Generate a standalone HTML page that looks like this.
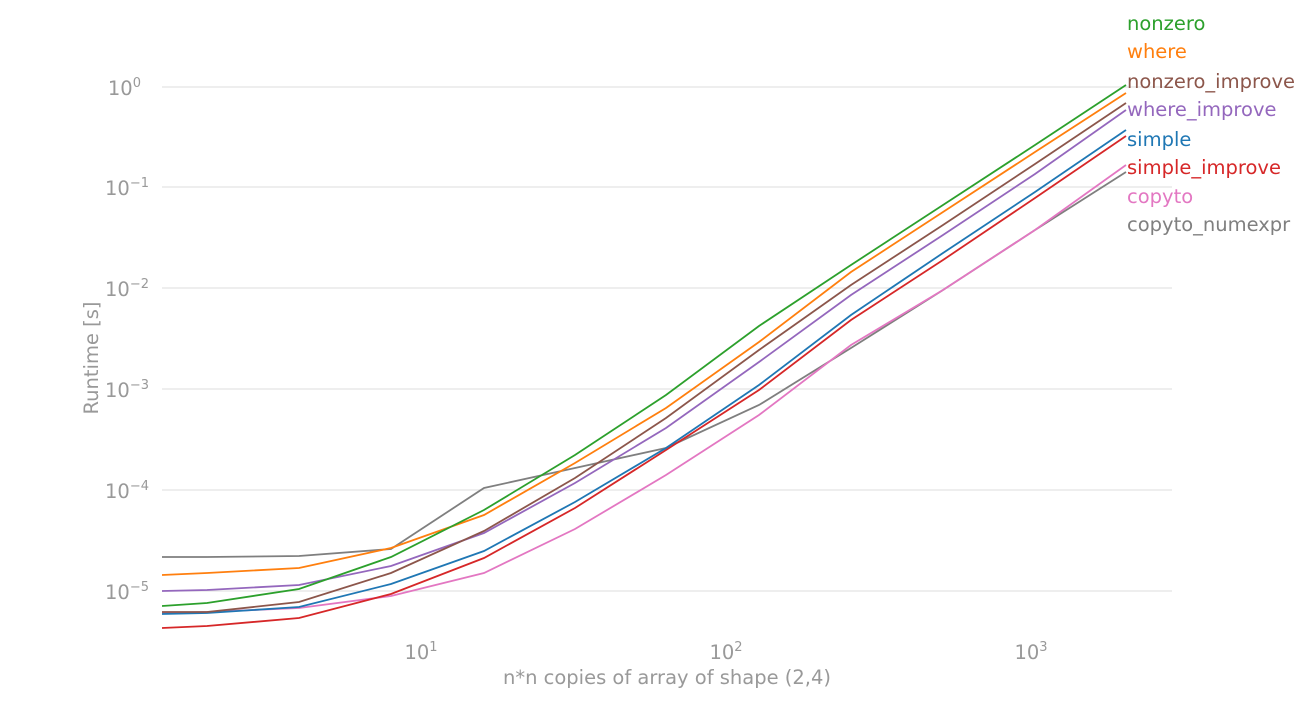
<!DOCTYPE html>
<html><head><meta charset="utf-8"><style>
html,body{margin:0;padding:0;background:#fff;}
svg text{font-family:"DejaVu Sans","Liberation Sans",sans-serif;}
</style></head><body>
<svg width="1303" height="709" xmlns="http://www.w3.org/2000/svg">
<defs><clipPath id="c"><rect x="162" y="0" width="1010" height="640"/></clipPath></defs>
<g stroke="#e3e3e3" stroke-width="1.2">
<line x1="162" x2="1172" y1="87" y2="87"/><line x1="162" x2="1172" y1="187" y2="187"/>
<line x1="162" x2="1172" y1="288" y2="288"/><line x1="162" x2="1172" y1="389" y2="389"/>
<line x1="162" x2="1172" y1="490" y2="490"/><line x1="162" x2="1172" y1="591" y2="591"/>
</g>
<g font-size="19.5" fill="#999" text-anchor="end">
<text x="141" y="95">10<tspan font-size="13" dy="-8">0</tspan></text>
<text x="149" y="195">10<tspan font-size="13" dy="-8">−1</tspan></text>
<text x="149" y="296">10<tspan font-size="13" dy="-8">−2</tspan></text>
<text x="149" y="397">10<tspan font-size="13" dy="-8">−3</tspan></text>
<text x="149" y="498">10<tspan font-size="13" dy="-8">−4</tspan></text>
<text x="149" y="599">10<tspan font-size="13" dy="-8">−5</tspan></text>
</g>
<g font-size="19.5" fill="#999" text-anchor="middle">
<text x="421" y="659">10<tspan font-size="13" dy="-8">1</tspan></text>
<text x="726" y="659">10<tspan font-size="13" dy="-8">2</tspan></text>
<text x="1031" y="659">10<tspan font-size="13" dy="-8">3</tspan></text>
<text x="667" y="684">n*n copies of array of shape (2,4)</text>
<text transform="translate(98,358) rotate(-90)">Runtime [s]</text>
</g>
<g fill="none" stroke-width="1.8" clip-path="url(#c)">
<polyline stroke="#7f7f7f" points="162,557 207,557 299,556 391,549 484,488 575,468 666,448 759,405 851,348 943,290 1035,230 1126,172"/>
<polyline stroke="#e377c2" points="162,613 207,612 299,608 391,596 484,573 575,529 666,475 759,415 851,345 943,290 1035,230 1126,165"/>
<polyline stroke="#d62728" points="162,628 207,626 299,618 391,594 484,558 575,508 666,450 759,390 851,320 943,260 1035,198 1126,136"/>
<polyline stroke="#1f77b4" points="162,614 207,613 299,607 391,584 484,551 575,502 666,448 759,385 851,315 943,253 1035,192 1126,130"/>
<polyline stroke="#9467bd" points="162,591 207,590 299,585 391,566 484,533 575,483 666,428 759,362 851,295 943,235 1035,174 1126,110"/>
<polyline stroke="#8c564b" points="162,612 207,612 299,602 391,573 484,531 575,478 666,418 759,350 851,285 943,225 1035,164 1126,103"/>
<polyline stroke="#ff7f0e" points="162,575 207,573 299,568 391,548 484,515 575,463 666,408 759,342 851,272 943,212 1035,152 1126,93"/>
<polyline stroke="#2ca02c" points="162,606 207,603 299,589 391,557 484,510 575,455 666,395 759,326 851,265 943,205 1035,145 1126,85"/>
</g>
<g font-size="19.5">
<text x="1127" y="30" fill="#2ca02c">nonzero</text>
<text x="1127" y="58" fill="#ff7f0e">where</text>
<text x="1127" y="88" fill="#8c564b">nonzero_improve</text>
<text x="1127" y="116" fill="#9467bd">where_improve</text>
<text x="1127" y="146" fill="#1f77b4">simple</text>
<text x="1127" y="174" fill="#d62728">simple_improve</text>
<text x="1127" y="203" fill="#e377c2">copyto</text>
<text x="1127" y="231" fill="#7f7f7f">copyto_numexpr</text>
</g>
</svg>
</body></html>
